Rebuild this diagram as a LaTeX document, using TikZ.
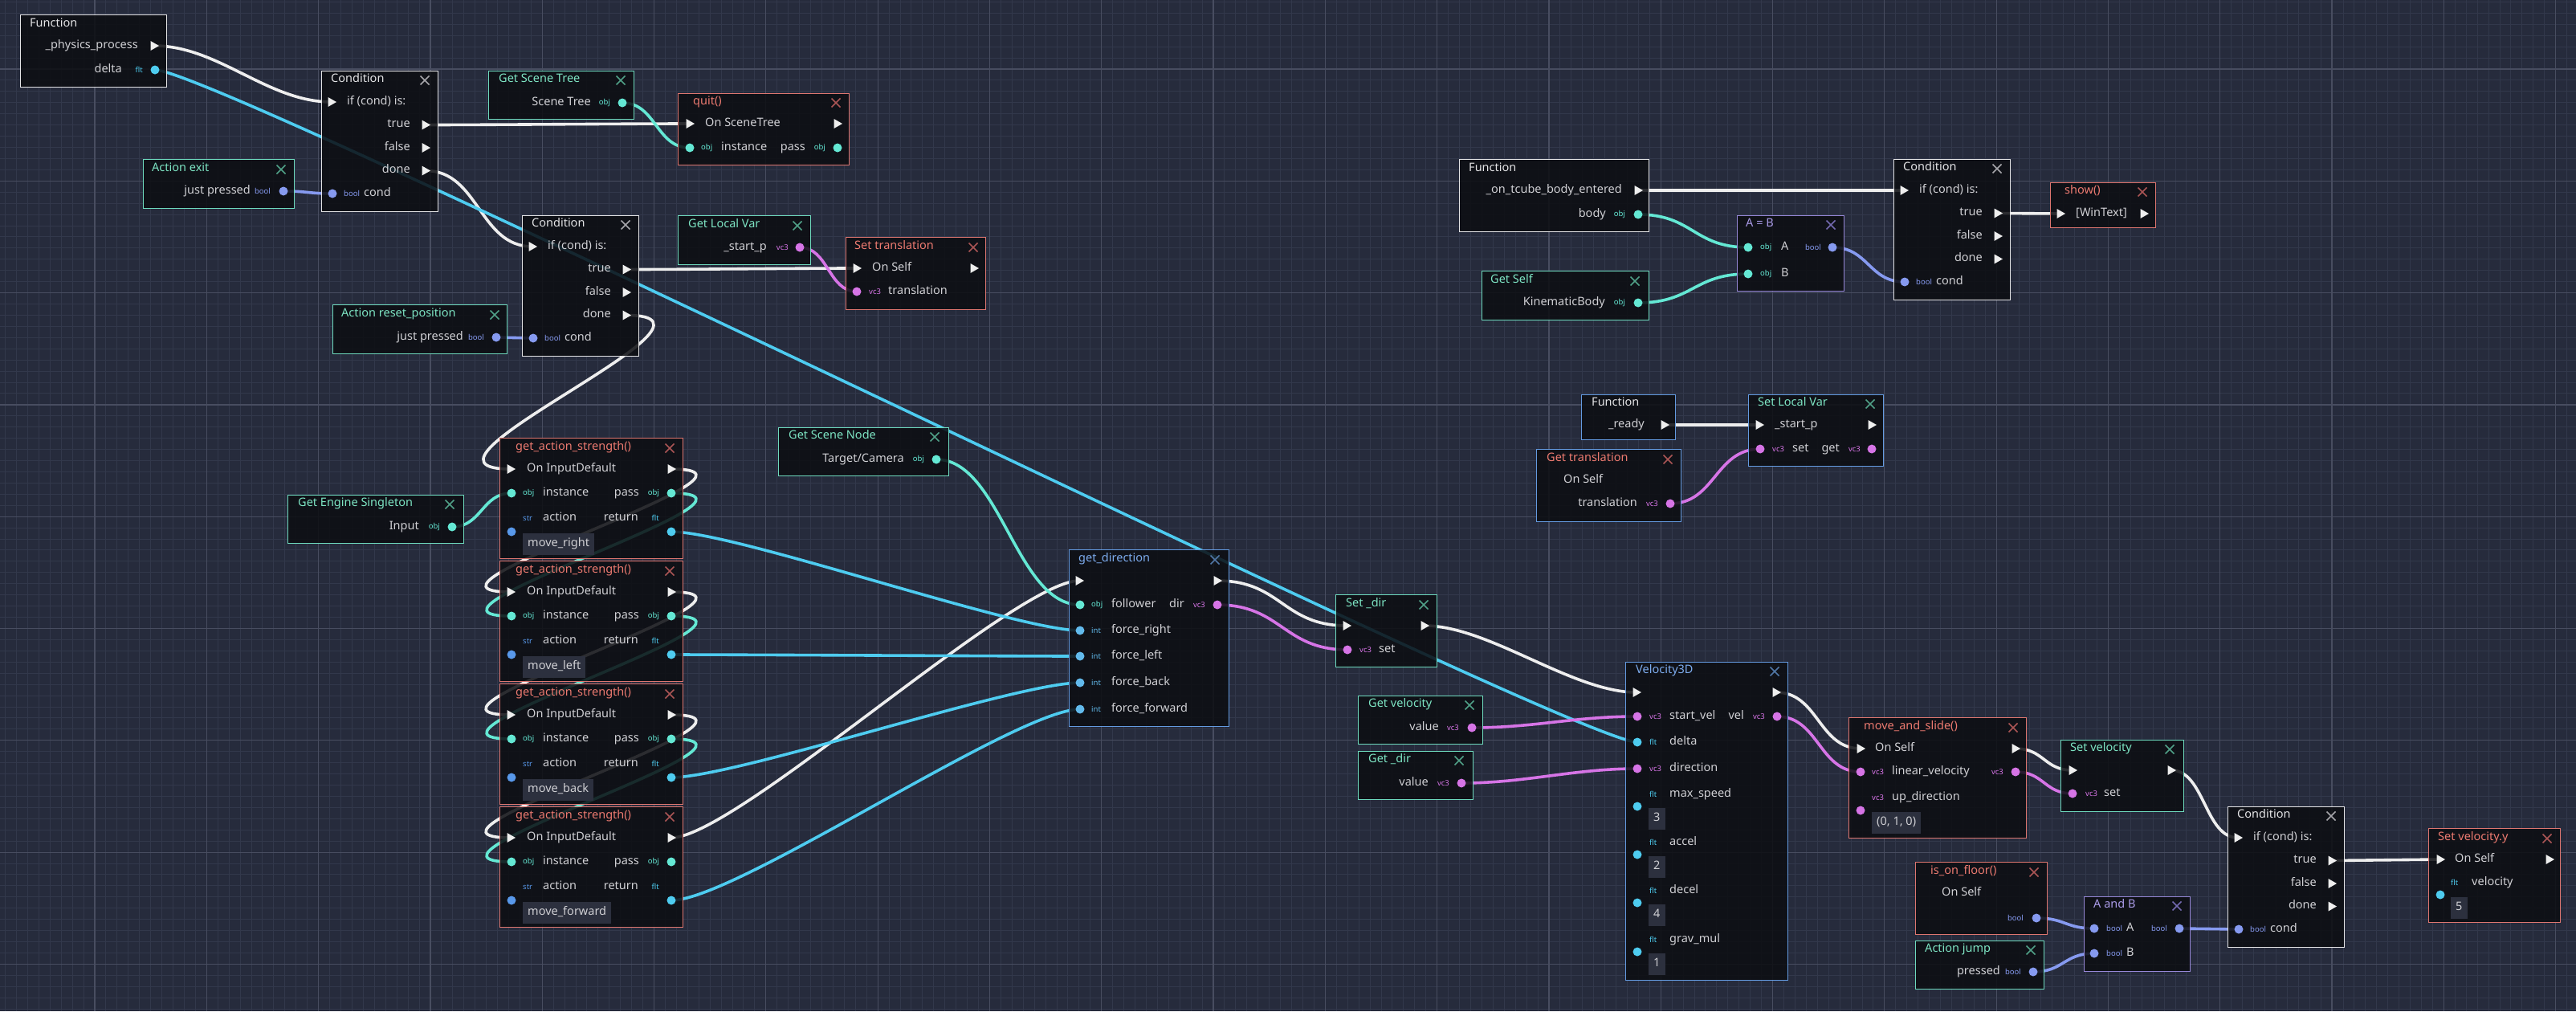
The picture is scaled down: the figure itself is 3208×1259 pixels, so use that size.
\documentclass[tikz,border=0pt]{standalone}
\usepackage{fontspec}
\setmainfont{Noto Sans}
\usetikzlibrary{calc}
\pgfdeclarelayer{grid}
\pgfdeclarelayer{wires}
\pgfsetlayers{grid,wires,main}

\definecolor{bgc}{RGB}{38,43,60}
\definecolor{minorc}{RGB}{50,56,75}
\definecolor{majorc}{RGB}{72,77,96}
\definecolor{nodec}{RGB}{12,13,17}
\definecolor{txtc}{RGB}{208,208,212}
\definecolor{valc}{RGB}{44,48,62}
\definecolor{plainc}{RGB}{228,228,230}
\definecolor{plainx}{RGB}{165,165,170}
\definecolor{getc}{RGB}{110,218,190}
\definecolor{gett}{RGB}{125,228,195}
\definecolor{getx}{RGB}{80,160,135}
\definecolor{callc}{RGB}{222,118,112}
\definecolor{callt}{RGB}{236,122,112}
\definecolor{callx}{RGB}{170,85,85}
\definecolor{opc}{RGB}{150,135,215}
\definecolor{optl}{RGB}{170,155,232}
\definecolor{opx}{RGB}{115,105,175}
\definecolor{scriptc}{RGB}{100,155,225}
\definecolor{scriptt}{RGB}{125,172,238}
\definecolor{scriptx}{RGB}{80,118,165}
\definecolor{objc}{RGB}{100,232,212}
\definecolor{fltc}{RGB}{78,204,240}
\definecolor{intc}{RGB}{98,186,236}
\definecolor{boolc}{RGB}{134,154,240}
\definecolor{vecc}{RGB}{214,116,230}
\definecolor{strc}{RGB}{88,152,234}
\definecolor{execc}{RGB}{238,238,238}

\begin{document}
\begin{tikzpicture}[
    x=1pt, y=-1pt,
    lbl/.style={font=\fontsize{14.5}{16}\selectfont, text=txtc, inner sep=0pt, text height=9.5, text depth=3},
    ttl/.style={lbl, anchor=west},
    icon/.style={font=\fontsize{9.5}{10}\selectfont\bfseries, inner sep=0pt},
    box/.style={draw, line width=1.4, fill=nodec, fill opacity=0.86, anchor=north west, inner sep=0pt},
    plainbox/.style={box, draw=plainc},
    getbox/.style={box, draw=getc},
    callbox/.style={box, draw=callc},
    opbox/.style={box, draw=opc},
    scriptbox/.style={box, draw=scriptc},
    valbox/.style={lbl, fill=valc, anchor=north west, inner xsep=6, minimum height=27},
    execp/.pic={\fill[execc] (-4.5,-6) -- (6,0) -- (-4.5,6) -- cycle;},
    xmark/.pic={\draw[line width=1.6] (-5.5,-5.5) -- (5.5,5.5) (-5.5,5.5) -- (5.5,-5.5);},
    wire/.style={line width=3.6, to path={let \p1=(\tikztostart), \p2=(\tikztotarget),
        \n1={ifthenelse(\x2>\x1, min(80,(\x2-\x1)/2), max(min(80+\x1-\x2,160),(\x1-\x2)/2))}
        in .. controls +(\n1,0) and +(-\n1,0) .. (\tikztotarget)}}
]
\useasboundingbox (0,0) rectangle (3208,1259);

% Background grid
\begin{pgfonlayer}{grid}
\fill[bgc] (0,0) rectangle (3208,1259);
\foreach \i in {0,...,230}
    \draw[minorc, line width=1] ({6.6+13.93*\i},0) -- ++(0,1259);
\foreach \i in {0,...,90}
    \draw[minorc, line width=1] (0,{2.4+13.93*\i}) -- ++(3208,0);
\foreach \i in {0,...,22}
    \draw[majorc, line width=1.2] ({118+139.3*\i},0) -- ++(0,1259);
\foreach \i in {0,...,8}
    \draw[majorc, line width=1.2] (0,{86+139.3*\i}) -- ++(3208,0);
\end{pgfonlayer}

% Function: _physics_process
\node[plainbox, minimum width=182, minimum height=90] (fphys) at (25,18) {};
\node[ttl, text=plainc] at (37,30) {Function};
\node[lbl, anchor=east] at (172,57) {\_physics\_process};
\node[lbl, anchor=east] at (152,87) {delta};
\node[icon, anchor=east, text=fltc] at (178,87) {flt};
\path (192,57) coordinate (fphys-out) pic {execp};
\fill[fltc] (193,87) coordinate (fphys-delta) circle (5.5pt);

% Condition nodes
\foreach \cn/\x/\y in {cA/400/88, cB/650/268, cC/2358/198, cD/2774/1004} {
    \node[plainbox, minimum width=145, minimum height=175] (\cn) at (\x,\y) {};
    \node[ttl, text=plainc] at (\x+12,\y+11) {Condition};
    \pic[plainx] at (\x+129,\y+12) {xmark};
    \path (\x+13,\y+39) coordinate (\cn-if) pic {execp};
    \node[lbl, anchor=west] at (\x+32,\y+39) {if (cond) is:};
    \foreach \row/\k in {true/1, false/2, done/3} {
        \node[lbl, anchor=east] at (\x+111,\y+39+28.5*\k) {\row};
        \path (\x+130,\y+39+28.5*\k) coordinate (\cn-\row) pic {execp};
    }
    \fill[boolc] (\x+14,\y+153) coordinate (\cn-cond) circle (5.5pt);
    \node[icon, anchor=west, text=boolc] at (\x+28,\y+153) {bool};
    \node[lbl, anchor=west] at (\x+53,\y+153) {cond};
}

% Get Scene Tree
\node[getbox, minimum width=181, minimum height=60] (gtree) at (608,88) {};
\node[ttl, text=gett] at (621,99) {Get Scene Tree};
\pic[getx] at (773,100) {xmark};
\node[lbl, anchor=east] at (736,128) {Scene Tree};
\node[icon, anchor=east, text=objc] at (760,128) {obj};
\fill[objc] (775,128) coordinate (gtree-out) circle (5.5pt);

% quit()
\node[callbox, minimum width=213, minimum height=89] (quit) at (844,116) {};
\node[ttl, text=callt] at (863,127) {quit()};
\pic[callx] at (1041,128) {xmark};
\path (859,154) coordinate (quit-in) pic {execp};
\node[lbl, anchor=west] at (878,154) {On SceneTree};
\path (1043,154) coordinate (quit-out) pic {execp};
\fill[objc] (859,184) coordinate (quit-inst) circle (5.5pt);
\node[icon, anchor=west, text=objc] at (873,184) {obj};
\node[lbl, anchor=west] at (898,184) {instance};
\node[lbl, anchor=east] at (1003,184) {pass};
\node[icon, anchor=east, text=objc] at (1028,184) {obj};
\fill[objc] (1043,184) coordinate (quit-pass) circle (5.5pt);

% Action exit
\node[getbox, minimum width=188, minimum height=61] (aexit) at (178,198) {};
\node[ttl, text=gett] at (189,210) {Action exit};
\pic[getx] at (350,211) {xmark};
\node[lbl, anchor=east] at (312,238) {just pressed};
\node[icon, anchor=east, text=boolc] at (337,238) {bool};
\fill[boolc] (353,238) coordinate (aexit-out) circle (5.5pt);

% Get Local Var
\node[getbox, minimum width=165, minimum height=61] (glocal) at (844,268) {};
\node[ttl, text=gett] at (857,280) {Get Local Var};
\pic[getx] at (993,281) {xmark};
\node[lbl, anchor=east] at (955,308) {\_start\_p};
\node[icon, anchor=east, text=vecc] at (982,308) {vc3};
\fill[vecc] (996,308) coordinate (glocal-out) circle (5.5pt);

% Set translation
\node[callbox, minimum width=174, minimum height=90] (settr) at (1053,295) {};
\node[ttl, text=callt] at (1064,307) {Set translation};
\pic[callx] at (1212,308) {xmark};
\path (1067,334) coordinate (settr-in) pic {execp};
\node[lbl, anchor=west] at (1086,334) {On Self};
\path (1213,334) coordinate (settr-out) pic {execp};
\fill[vecc] (1067,363) coordinate (settr-val) circle (5.5pt);
\node[icon, anchor=west, text=vecc] at (1082,363) {vc3};
\node[lbl, anchor=west] at (1106,363) {translation};

% Action reset_position
\node[getbox, minimum width=217, minimum height=61] (areset) at (414,379) {};
\node[ttl, text=gett] at (425,391) {Action reset\_position};
\pic[getx] at (616,392) {xmark};
\node[lbl, anchor=east] at (577,420) {just pressed};
\node[icon, anchor=east, text=boolc] at (603,420) {bool};
\fill[boolc] (618,420) coordinate (areset-out) circle (5.5pt);

% Get Engine Singleton
\node[getbox, minimum width=219, minimum height=60] (gengine) at (358,616) {};
\node[ttl, text=gett] at (371,627) {Get Engine Singleton};
\pic[getx] at (560,628) {xmark};
\node[lbl, anchor=east] at (522,656) {Input};
\node[icon, anchor=east, text=objc] at (548,656) {obj};
\fill[objc] (563,656) coordinate (gengine-out) circle (5.5pt);

% get_action_strength() x4
\foreach \k/\act in {0/move\_right, 1/move\_left, 2/move\_back, 3/move\_forward} {
    \pgfmathsetmacro{\ty}{545+153*\k}
    \node[callbox, minimum width=228, minimum height=150] (gas\k) at (622,\ty) {};
    \node[ttl, text=callt] at (642,\ty+12) {get\_action\_strength()};
    \pic[callx] at (834,\ty+13) {xmark};
    \path (636,\ty+39) coordinate (gas\k-in) pic {execp};
    \node[lbl, anchor=west] at (656,\ty+39) {On InputDefault};
    \path (836,\ty+39) coordinate (gas\k-out) pic {execp};
    \fill[objc] (637,\ty+69) coordinate (gas\k-inst) circle (5.5pt);
    \node[icon, anchor=west, text=objc] at (651,\ty+69) {obj};
    \node[lbl, anchor=west] at (676,\ty+69) {instance};
    \node[lbl, anchor=east] at (796,\ty+69) {pass};
    \node[icon, anchor=east, text=objc] at (821,\ty+69) {obj};
    \fill[objc] (836,\ty+69) coordinate (gas\k-pass) circle (5.5pt);
    \node[icon, anchor=west, text=strc] at (651,\ty+100) {str};
    \node[lbl, anchor=west] at (676,\ty+100) {action};
    \node[lbl, anchor=east] at (795,\ty+100) {return};
    \node[icon, anchor=east, text=fltc] at (821,\ty+100) {flt};
    \fill[strc] (637,\ty+117) coordinate (gas\k-act) circle (5.5pt);
    \fill[fltc] (836,\ty+117) coordinate (gas\k-ret) circle (5.5pt);
    \node[valbox] at (651,\ty+119) {\act};
}

% Get Scene Node
\node[getbox, minimum width=212, minimum height=60] (gscene) at (969,532) {};
\node[ttl, text=gett] at (982,543) {Get Scene Node};
\pic[getx] at (1164,544) {xmark};
\node[lbl, anchor=east] at (1126,572) {Target/Camera};
\node[icon, anchor=east, text=objc] at (1151,572) {obj};
\fill[objc] (1166,572) coordinate (gscene-out) circle (5.5pt);

% get_direction
\node[scriptbox, minimum width=199, minimum height=220] (gdir) at (1331,684) {};
\node[ttl, text=scriptt] at (1343,696) {get\_direction};
\pic[scriptx] at (1513,697) {xmark};
\path (1344,723) coordinate (gdir-in) pic {execp};
\path (1516,723) coordinate (gdir-out) pic {execp};
\fill[objc] (1345,753) coordinate (gdir-fol) circle (5.5pt);
\node[icon, anchor=west, text=objc] at (1359,753) {obj};
\node[lbl, anchor=west] at (1384,753) {follower};
\node[lbl, anchor=east] at (1475,753) {dir};
\node[icon, anchor=east, text=vecc] at (1501,753) {vc3};
\fill[vecc] (1516,753) coordinate (gdir-dir) circle (5.5pt);
\foreach \f/\yy in {right/785, left/817, back/850, forward/883} {
    \fill[intc] (1345,\yy) coordinate (gdir-\f) circle (5.5pt);
    \node[icon, anchor=west, text=intc] at (1359,\yy) {int};
    \node[lbl, anchor=west] at (1384,\yy) {force\_\f};
}

% Set _dir
\node[getbox, minimum width=126, minimum height=90] (setdir) at (1663,740) {};
\node[ttl, text=gett] at (1676,752) {Set \_dir};
\pic[getx] at (1773,753) {xmark};
\path (1677,779) coordinate (setdir-in) pic {execp};
\path (1774,779) coordinate (setdir-out) pic {execp};
\fill[vecc] (1678,809) coordinate (setdir-set) circle (5.5pt);
\node[icon, anchor=west, text=vecc] at (1693,809) {vc3};
\node[lbl, anchor=west] at (1717,809) {set};

% Get velocity
\node[getbox, minimum width=155, minimum height=60] (gvel) at (1691,866) {};
\node[ttl, text=gett] at (1704,877) {Get velocity};
\pic[getx] at (1830,878) {xmark};
\node[lbl, anchor=east] at (1792,906) {value};
\node[icon, anchor=east, text=vecc] at (1817,906) {vc3};
\fill[vecc] (1833,906) coordinate (gvel-out) circle (5.5pt);

% Get _dir
\node[getbox, minimum width=143, minimum height=60] (getdir) at (1691,935) {};
\node[ttl, text=gett] at (1704,946) {Get \_dir};
\pic[getx] at (1817,947) {xmark};
\node[lbl, anchor=east] at (1779,975) {value};
\node[icon, anchor=east, text=vecc] at (1805,975) {vc3};
\fill[vecc] (1820,975) coordinate (getdir-out) circle (5.5pt);

% Velocity3D
\node[scriptbox, minimum width=202, minimum height=396] (vel3) at (2024,824) {};
\node[ttl, text=scriptt] at (2037,835) {Velocity3D};
\pic[scriptx] at (2210,836) {xmark};
\path (2038,862) coordinate (vel3-in) pic {execp};
\path (2212,862) coordinate (vel3-out) pic {execp};
\fill[vecc] (2039,892) coordinate (vel3-start) circle (5.5pt);
\node[icon, anchor=west, text=vecc] at (2054,892) {vc3};
\node[lbl, anchor=west] at (2079,892) {start\_vel};
\node[lbl, anchor=east] at (2172,892) {vel};
\node[icon, anchor=east, text=vecc] at (2198,892) {vc3};
\fill[vecc] (2213,892) coordinate (vel3-vel) circle (5.5pt);
\fill[fltc] (2039,924) coordinate (vel3-delta) circle (5.5pt);
\node[icon, anchor=west, text=fltc] at (2054,924) {flt};
\node[lbl, anchor=west] at (2079,924) {delta};
\fill[vecc] (2039,957) coordinate (vel3-dir) circle (5.5pt);
\node[icon, anchor=west, text=vecc] at (2054,957) {vc3};
\node[lbl, anchor=west] at (2079,957) {direction};
\foreach \prm/\val/\yy in {max\_speed/3/989, accel/2/1049, decel/4/1109, grav\_mul/1/1170} {
    \node[icon, anchor=west, text=fltc] at (2054,\yy) {flt};
    \node[lbl, anchor=west] at (2079,\yy) {\prm};
    \fill[fltc] (2039,\yy+15) circle (5.5pt);
    \node[valbox] at (2053,\yy+17) {\val};
}

% move_and_slide()
\node[callbox, minimum width=221, minimum height=150] (mslide) at (2302,893) {};
\node[ttl, text=callt] at (2321,905) {move\_and\_slide()};
\pic[callx] at (2507,906) {xmark};
\path (2317,932) coordinate (mslide-in) pic {execp};
\node[lbl, anchor=west] at (2335,932) {On Self};
\path (2510,932) coordinate (mslide-out) pic {execp};
\fill[vecc] (2317,961) coordinate (mslide-lin) circle (5.5pt);
\node[icon, anchor=west, text=vecc] at (2331,961) {vc3};
\node[lbl, anchor=west] at (2356,961) {linear\_velocity};
\node[icon, anchor=east, text=vecc] at (2495,961) {vc3};
\fill[vecc] (2510,961) coordinate (mslide-ret) circle (5.5pt);
\node[icon, anchor=west, text=vecc] at (2331,993) {vc3};
\node[lbl, anchor=west] at (2356,993) {up\_direction};
\fill[vecc] (2317,1009) circle (5.5pt);
\node[valbox] at (2331,1011) {(0, 1, 0)};

% Set velocity
\node[getbox, minimum width=153, minimum height=89] (setvel) at (2566,921) {};
\node[ttl, text=gett] at (2578,932) {Set velocity};
\pic[getx] at (2702,933) {xmark};
\path (2581,959) coordinate (setvel-in) pic {execp};
\path (2704,959) coordinate (setvel-out) pic {execp};
\fill[vecc] (2581,988) coordinate (setvel-set) circle (5.5pt);
\node[icon, anchor=west, text=vecc] at (2597,988) {vc3};
\node[lbl, anchor=west] at (2620,988) {set};

% Set velocity.y
\node[callbox, minimum width=164, minimum height=117] (setvy) at (3024,1031) {};
\node[ttl, text=callt] at (3036,1043) {Set velocity.y};
\pic[callx] at (3172,1044) {xmark};
\path (3039,1070) coordinate (setvy-in) pic {execp};
\node[lbl, anchor=west] at (3057,1070) {On Self};
\path (3175,1070) coordinate (setvy-out) pic {execp};
\node[icon, anchor=west, text=fltc] at (3052,1099) {flt};
\node[lbl, anchor=west] at (3078,1099) {velocity};
\fill[fltc] (3039,1114) circle (5.5pt);
\node[valbox] at (3052,1117) {5};

% is_on_floor()
\node[callbox, minimum width=164, minimum height=90] (floor) at (2385,1073) {};
\node[ttl, text=callt] at (2404,1085) {is\_on\_floor()};
\pic[callx] at (2533,1086) {xmark};
\node[lbl, anchor=west] at (2418,1112) {On Self};
\node[icon, anchor=east, text=boolc] at (2520,1143) {bool};
\fill[boolc] (2536,1143) coordinate (floor-out) circle (5.5pt);

% Action jump
\node[getbox, minimum width=160, minimum height=60] (ajump) at (2385,1171) {};
\node[ttl, text=gett] at (2397,1182) {Action jump};
\pic[getx] at (2529,1183) {xmark};
\node[lbl, anchor=east] at (2491,1210) {pressed};
\node[icon, anchor=east, text=boolc] at (2517,1210) {bool};
\fill[boolc] (2532,1210) coordinate (ajump-out) circle (5.5pt);

% A and B
\node[opbox, minimum width=132, minimum height=93] (aandb) at (2595,1116) {};
\node[ttl, text=optl] at (2607,1127) {A and B};
\pic[opx] at (2711,1128) {xmark};
\fill[boolc] (2608,1156) coordinate (aandb-a) circle (5.5pt);
\node[icon, anchor=west, text=boolc] at (2623,1156) {bool};
\node[lbl, anchor=west] at (2648,1156) {A};
\node[icon, anchor=east, text=boolc] at (2699,1156) {bool};
\fill[boolc] (2714,1156) coordinate (aandb-out) circle (5.5pt);
\fill[boolc] (2608,1187) coordinate (aandb-b) circle (5.5pt);
\node[icon, anchor=west, text=boolc] at (2623,1187) {bool};
\node[lbl, anchor=west] at (2648,1187) {B};

% Function: _on_tcube_body_entered
\node[plainbox, minimum width=236, minimum height=90] (fbody) at (1817,198) {};
\node[ttl, text=plainc] at (1829,210) {Function};
\node[lbl, anchor=east] at (2020,237) {\_on\_tcube\_body\_entered};
\path (2040,237) coordinate (fbody-out) pic {execp};
\node[lbl, anchor=east] at (2000,267) {body};
\node[icon, anchor=east, text=objc] at (2024,267) {obj};
\fill[objc] (2040,267) coordinate (fbody-body) circle (5.5pt);

% A = B
\node[opbox, minimum width=133, minimum height=94] (aeqb) at (2163,268) {};
\node[ttl, text=optl] at (2174,279) {A = B};
\pic[opx] at (2280,280) {xmark};
\fill[objc] (2177,308) coordinate (aeqb-a) circle (5.5pt);
\node[icon, anchor=west, text=objc] at (2192,308) {obj};
\node[lbl, anchor=west] at (2218,308) {A};
\node[icon, anchor=east, text=boolc] at (2268,308) {bool};
\fill[boolc] (2282,308) coordinate (aeqb-out) circle (5.5pt);
\fill[objc] (2177,341) coordinate (aeqb-b) circle (5.5pt);
\node[icon, anchor=west, text=objc] at (2192,341) {obj};
\node[lbl, anchor=west] at (2218,341) {B};

% Get Self
\node[getbox, minimum width=208, minimum height=61] (gself) at (1845,337) {};
\node[ttl, text=gett] at (1856,349) {Get Self};
\pic[getx] at (2036,350) {xmark};
\node[lbl, anchor=east] at (1999,377) {KinematicBody};
\node[icon, anchor=east, text=objc] at (2024,377) {obj};
\fill[objc] (2040,377) coordinate (gself-out) circle (5.5pt);

% show()
\node[callbox, minimum width=131, minimum height=56] (show) at (2553,227) {};
\node[ttl, text=callt] at (2571,238) {show()};
\pic[callx] at (2668,239) {xmark};
\path (2566,266) coordinate (show-in) pic {execp};
\node[lbl, anchor=west] at (2585,266) {[WinText]};
\path (2670,266) coordinate (show-out) pic {execp};

% Function: _ready
\node[scriptbox, minimum width=117, minimum height=56] (fready) at (1969,491) {};
\node[ttl, text=plainc] at (1982,502) {Function};
\node[lbl, anchor=east] at (2048,529) {\_ready};
\path (2073,529) coordinate (fready-out) pic {execp};

% Set Local Var
\node[scriptbox, minimum width=168, minimum height=89] (slocal) at (2177,491) {};
\node[ttl, text=gett] at (2189,502) {Set Local Var};
\pic[getx] at (2329,503) {xmark};
\path (2191,529) coordinate (slocal-in) pic {execp};
\node[lbl, anchor=west] at (2210,529) {\_start\_p};
\path (2331,529) coordinate (slocal-out) pic {execp};
\fill[vecc] (2192,559) coordinate (slocal-set) circle (5.5pt);
\node[icon, anchor=west, text=vecc] at (2207,559) {vc3};
\node[lbl, anchor=west] at (2232,559) {set};
\node[lbl, anchor=east] at (2291,559) {get};
\node[icon, anchor=east, text=vecc] at (2317,559) {vc3};
\fill[vecc] (2331,559) coordinate (slocal-get) circle (5.5pt);

% Get translation
\node[scriptbox, minimum width=180, minimum height=90] (gtrans) at (1913,559) {};
\node[ttl, text=callt] at (1926,571) {Get translation};
\pic[callx] at (2077,572) {xmark};
\node[lbl, anchor=west] at (1947,598) {On Self};
\node[lbl, anchor=east] at (2039,627) {translation};
\node[icon, anchor=east, text=vecc] at (2065,627) {vc3};
\fill[vecc] (2080,627) coordinate (gtrans-out) circle (5.5pt);

% Wires, under the nodes
\begin{pgfonlayer}{wires}
% sequence
\foreach \src/\dst in {fphys-out/cA-if, cA-true/quit-in, cA-done/cB-if, cB-true/settr-in,
    cB-done/gas0-in, gas0-out/gas1-in, gas1-out/gas2-in, gas2-out/gas3-in, gas3-out/gdir-in,
    gdir-out/setdir-in, setdir-out/vel3-in, vel3-out/mslide-in, mslide-out/setvel-in,
    setvel-out/cD-if, cD-true/setvy-in, fbody-out/cC-if, cC-true/show-in, fready-out/slocal-in}
    \draw[wire, execc] (\src) to (\dst);
% data
\foreach \src/\dst/\col in {fphys-delta/vel3-delta/fltc, gtree-out/quit-inst/objc,
    aexit-out/cA-cond/boolc, glocal-out/settr-val/vecc, areset-out/cB-cond/boolc,
    gengine-out/gas0-inst/objc, gas0-pass/gas1-inst/objc, gas1-pass/gas2-inst/objc,
    gas2-pass/gas3-inst/objc, gas0-ret/gdir-right/fltc, gas1-ret/gdir-left/fltc,
    gas2-ret/gdir-back/fltc, gas3-ret/gdir-forward/fltc, gscene-out/gdir-fol/objc,
    gdir-dir/setdir-set/vecc, gvel-out/vel3-start/vecc, getdir-out/vel3-dir/vecc,
    vel3-vel/mslide-lin/vecc, mslide-ret/setvel-set/vecc, floor-out/aandb-a/boolc,
    ajump-out/aandb-b/boolc, aandb-out/cD-cond/boolc, fbody-body/aeqb-a/objc,
    gself-out/aeqb-b/objc, aeqb-out/cC-cond/boolc, gtrans-out/slocal-set/vecc}
    \draw[wire, \col] (\src) to (\dst);
\end{pgfonlayer}

\end{tikzpicture}
\end{document}
